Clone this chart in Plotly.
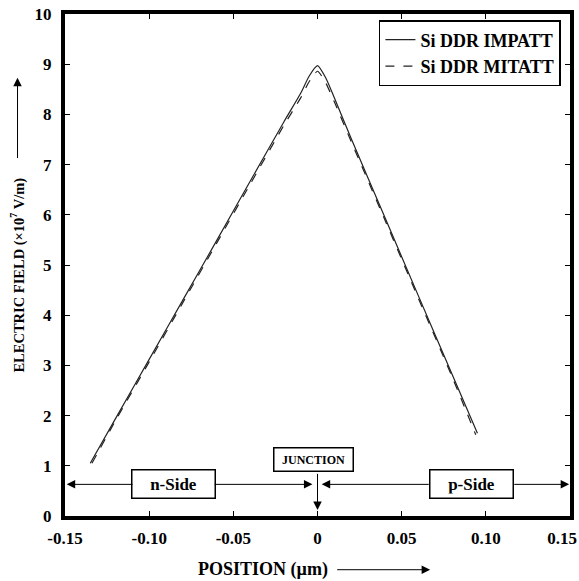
import plotly.graph_objects as go

# Data (position in µm, field in 1e7 V/m)
impatt_x = [-0.135, -0.12, -0.10, -0.08, -0.06, -0.04, -0.02, -0.01, -0.005, 0.0,
            0.005, 0.01, 0.02, 0.04, 0.06, 0.08, 0.095]
impatt_y = [1.05, 1.94, 3.12, 4.30, 5.48, 6.67, 7.85, 8.42, 8.76, 8.97,
            8.72, 8.33, 7.52, 5.95, 4.38, 2.82, 1.65]
mitatt_x = [-0.134, -0.12, -0.10, -0.08, -0.06, -0.04, -0.02, -0.01, -0.005, 0.0,
            0.005, 0.01, 0.02, 0.04, 0.06, 0.08, 0.094]
mitatt_y = [1.05, 1.90, 3.07, 4.25, 5.43, 6.61, 7.78, 8.33, 8.65, 8.86,
            8.62, 8.25, 7.46, 5.90, 4.33, 2.77, 1.62]

x_ticks = [-0.15, -0.10, -0.05, 0.0, 0.05, 0.10]
x_ticklabels = ["-0.15", "-0.10", "-0.05", "0", "0.05", "0.10"]
x_edge_tick = [0.15]
x_edge_ticklabel = ["0.15"]
y_ticks = list(range(0, 11))

SERIF = "Liberation Serif"

fig = go.Figure()
fig.add_trace(go.Scatter(x=impatt_x, y=impatt_y, mode="lines", name="<b>Si DDR IMPATT</b>",
                         line=dict(color="#222", width=1.2, shape="spline", smoothing=0.6),
                         legendgroup="a"))
fig.add_trace(go.Scatter(x=mitatt_x, y=mitatt_y, mode="lines", name="<b>Si DDR MITATT</b>",
                         line=dict(color="#222", width=1.2, dash="dash", shape="spline", smoothing=0.6),
                         legendgroup="b"))
# carrier for the overlaid axis holding the edge tick label
fig.add_trace(go.Scatter(x=[], y=[], xaxis="x2", yaxis="y", showlegend=False, hoverinfo="skip"))

ann_font = dict(family=SERIF, size=17, color="black")
ARROW_Y = 0.63
arrow_style = dict(showarrow=True, arrowhead=2, arrowsize=1.7, arrowwidth=1, arrowcolor="black", text="")


def data_arrow(x0, y0, x1, y1):
    return dict(x=x1, y=y1, ax=x0, ay=y0, xref="x", yref="y", axref="x", ayref="y", **arrow_style)


def dom_arrow(x0, y0, x1, y1):
    return dict(x=x1, y=y1, ax=x0, ay=y0, xref="x domain", yref="y domain",
                axref="x domain", ayref="y domain", **arrow_style)


annotations = [
    dict(x=-0.0855, y=ARROW_Y, xref="x", yref="y", text="<b>n-Side</b>", showarrow=False,
         font=ann_font, bordercolor="black", borderwidth=1.5, bgcolor="white", borderpad=4,
         width=74),
    data_arrow(-0.109, ARROW_Y, -0.149, ARROW_Y),
    data_arrow(-0.062, ARROW_Y, -0.003, ARROW_Y),
    dict(x=0.0915, y=ARROW_Y, xref="x", yref="y", text="<b>p-Side</b>", showarrow=False,
         font=ann_font, bordercolor="black", borderwidth=1.5, bgcolor="white", borderpad=4,
         width=74),
    data_arrow(0.067, ARROW_Y, 0.0025, ARROW_Y),
    data_arrow(0.116, ARROW_Y, 0.1495, ARROW_Y),
    dict(x=-0.0025, y=1.12, xref="x", yref="y", text="<b>JUNCTION</b>", showarrow=False,
         font=dict(family=SERIF, size=12, color="black"), bordercolor="black", borderwidth=1.5,
         bgcolor="white", borderpad=4, width=70),
    data_arrow(0.0, 0.87, 0.0, 0.12),
    dict(xref="x domain", yref="y domain", x=-0.094, y=0.48, xanchor="center", yanchor="middle",
         text="<b>ELECTRIC FIELD (×10<sup>7</sup> V/m)</b>", textangle=-90, showarrow=False,
         font=dict(family=SERIF, size=14.5, color="black")),
    dom_arrow(-0.094, 0.71, -0.094, 0.873),
    dict(xref="x domain", yref="y domain", x=0.392, y=-0.107, xanchor="center", yanchor="middle",
         text="<b>POSITION (µm)</b>", showarrow=False,
         font=dict(family=SERIF, size=18, color="black")),
    dom_arrow(0.536, -0.107, 0.723, -0.107),
]

axis_common = dict(showline=True, linecolor="black", linewidth=4, mirror="ticks",
                   ticks="inside", ticklen=5, tickcolor="black", tickwidth=1,
                   showgrid=False, zeroline=False, automargin=False,
                   tickfont=dict(family=SERIF, size=17, color="black"))

fig.update_layout(
    width=579, height=581,
    margin=dict(l=65, r=9, t=14, b=65, autoexpand=False),
    paper_bgcolor="white", plot_bgcolor="white",
    xaxis=dict(range=[-0.150001, 0.150001], tickvals=x_ticks + x_edge_tick,
               ticktext=[f"<b>{t}</b>" for t in x_ticklabels] + [""],
               ticklabelstandoff=4, **axis_common),
    xaxis2=dict(overlaying="x", matches="x", anchor="y", side="bottom",
                tickvals=x_edge_tick, ticktext=[f"<b>{t}</b>" for t in x_edge_ticklabel],
                ticks="", showline=False, showgrid=False, zeroline=False, automargin=False,
                ticklabelshift=-8, ticklabelstandoff=10, ticklabeloverflow="allow",
                tickfont=dict(family=SERIF, size=17, color="black")),
    yaxis=dict(range=[0, 10], tickvals=y_ticks, ticktext=[f"<b>{t}</b>" for t in y_ticks],
               ticklabelstandoff=6, **axis_common),
    legend=dict(x=0.982, y=0.988, xanchor="right", yanchor="top", bgcolor="white",
                bordercolor="black", borderwidth=1.5, tracegroupgap=0,
                font=dict(family=SERIF, size=18, color="black")),
    annotations=annotations,
    showlegend=True,
)

fig.write_html("out.html")
